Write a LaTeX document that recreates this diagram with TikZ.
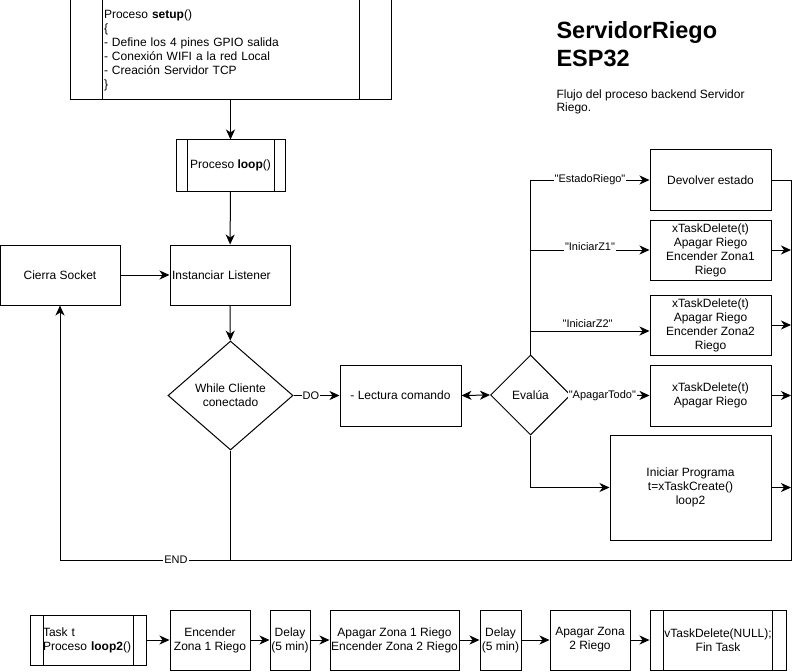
\documentclass[tikz,border=0pt]{standalone}
\usepackage{fontspec}
\setmainfont{Liberation Sans}[Ligatures=TeXOff]
\usetikzlibrary{shapes.geometric,arrows.meta}

\begin{document}
\begin{tikzpicture}[
    x=1pt,
    y=-1pt,
    line width=1pt,
    every node/.style={
      font=\fontsize{12}{14}\selectfont
    },
    box/.style={
      draw,
      rectangle,
      inner sep=0pt,
      align=center
    },
    proc/.style={
      box,
      path picture={
        \draw ([xshift=#1]path picture bounding box.north west) -- ([xshift=#1]path picture bounding box.south west);
        \draw ([xshift=-#1]path picture bounding box.north east) -- ([xshift=-#1]path picture bounding box.south east);
      }
    },
    decision/.style={
      draw,
      diamond,
      inner sep=0pt,
      align=center
    },
    lbl/.style={
      fill=white,
      inner sep=1pt,
      font=\fontsize{11}{13}\selectfont
    },
    flow/.style={
      -{Stealth[length=10pt, width=9pt, inset=3pt]}
    },
    both/.style={
      {Stealth[length=10pt, width=9pt, inset=3pt]}-{Stealth[length=10pt, width=9pt, inset=3pt]}
    }
  ]
    \useasboundingbox (0, 0) rectangle (799, 671);

    % title
    \node[anchor=west, align=left, inner sep=0pt, font=\fontsize{23.5}{28}\selectfont\bfseries] (title) at (556, 44) {ServidorRiego\\ESP32};
    \node[anchor=west, align=left, inner sep=0pt, font=\fontsize{12}{13}\selectfont] (subtitle) at (556, 101.5) {Flujo del proceso backend Servidor\\Riego.};

    % main loop
    \node[proc=32pt, minimum width=321pt, minimum height=100pt, text width=253pt, inner xsep=34pt, align=left] (setup) at (230.5, 50) {Proceso \textbf{setup}()\\\{\\- Define los 4 pines GPIO salida\\- Conexión WIFI a la red Local\\- Creación Servidor TCP\\\}};
    \node[proc=11pt, minimum width=109pt, minimum height=51pt] (loop) at (230.5, 165.5) {Proceso \textbf{loop}()};
    \node[box, minimum width=120pt, minimum height=60pt] (cierra) at (60, 275) {Cierra Socket};
    \node[box, minimum height=60pt, text width=116pt, inner xsep=2pt, align=left] (listener) at (230, 275) {Instanciar Listener};
    \node[decision, minimum width=125pt, minimum height=109pt] (while) at (230.5, 395.5) {While Cliente\\conectado};
    \node[box, minimum width=121pt, minimum height=61pt] (lectura) at (400.5, 395.5) {- Lectura comando};
    \node[decision, minimum width=80pt, minimum height=80pt] (evalua) at (530.5, 395) {Evalúa};

    % commands
    \node[box, minimum width=121pt, minimum height=60pt] (estado) at (710.5, 180) {Devolver estado};
    \node[box, minimum width=121pt, minimum height=60pt] (zona1) at (710.5, 250) {xTaskDelete(t)\\Apagar Riego\\Encender Zona1\\Riego};
    \node[box, minimum width=121pt, minimum height=60pt] (zona2) at (710.5, 325) {xTaskDelete(t)\\Apagar Riego\\Encender Zona2\\Riego};
    \node[box, minimum width=121pt, minimum height=61pt] (apagar) at (710.5, 395.5) {xTaskDelete(t)\\Apagar Riego};
    \node[box, minimum width=161pt, minimum height=105pt] (iniciar) at (690.5, 487.5) {Iniciar Programa\\t=xTaskCreate()\\loop2};
    \coordinate (rail) at (791, 560);
    \coordinate (endjoin) at (230.5, 560);

    % task loop2
    \node[proc=13pt, minimum width=116pt, minimum height=50pt, text width=90pt, inner xsep=13pt, align=left] (task) at (88, 640) {Task t\\Proceso \textbf{loop2}()};
    \node[box, minimum width=80pt, minimum height=60pt] (enc1) at (210, 640) {Encender\\Zona 1 Riego};
    \node[box, minimum width=40pt, minimum height=60pt] (delay1) at (290, 640) {Delay\\(5 min)};
    \node[box, minimum width=129pt, minimum height=60pt] (swap) at (394.5, 640) {Apagar Zona 1 Riego\\Encender Zona 2 Riego};
    \node[box, minimum width=41pt, minimum height=60pt] (delay2) at (500.5, 640) {Delay\\(5 min)};
    \node[box, minimum width=80pt, minimum height=60pt] (apz2) at (590, 640) {Apagar Zona\\2 Riego};
    \node[proc=13.5pt, minimum width=136pt, minimum height=60pt] (fin) at (718, 640) {vTaskDelete(NULL);\\Fin Task};

    \draw[flow] (setup) to (loop);
    \draw[flow] (loop) to (listener);
    \draw[flow] (cierra) to (listener);
    \draw[flow] (listener) to (while);
    \draw[flow] (while.east) to node[lbl, pos=0.38] {DO} (lectura.west);
    \draw[both] (lectura.east) to (evalua.west);
    \draw[flow] (evalua.north) |- node[lbl, pos=0.75] {"EstadoRiego"} (estado.west);
    \draw[flow] (evalua.north) |- node[lbl, pos=0.75, yshift=3pt] {"IniciarZ1"} (zona1.west);
    \draw[flow] (evalua.north) |- node[lbl, pos=0.74, yshift=7pt] {"IniciarZ2"} ([yshift=-6pt]zona2.west);
    \draw[flow] (evalua.east) to node[lbl, pos=0.4] {"ApagarTodo"} (apagar.west);
    \draw[flow] (evalua.south) |- (iniciar.west);
    \draw (estado.east) -| (rail) -- (endjoin);
    \draw[flow] (zona1.east) -- (zona1.east -| rail);
    \draw[flow] (zona2.east) -- (zona2.east -| rail);
    \draw[flow] (apagar.east) -- (apagar.east -| rail);
    \draw[flow] (iniciar.east) -- (iniciar.east -| rail);
    \draw[flow] (while.south) -- (endjoin) -| node[lbl, pos=0.16] {END} (cierra.south);

    \draw[flow] (task) to (enc1);
    \draw[flow] (enc1) to (delay1);
    \draw[flow] (delay1) to (swap);
    \draw[flow] (swap) to (delay2);
    \draw[flow] (delay2) to (apz2);
    \draw[flow] (apz2) to (fin);
  \end{tikzpicture}
\end{document}
